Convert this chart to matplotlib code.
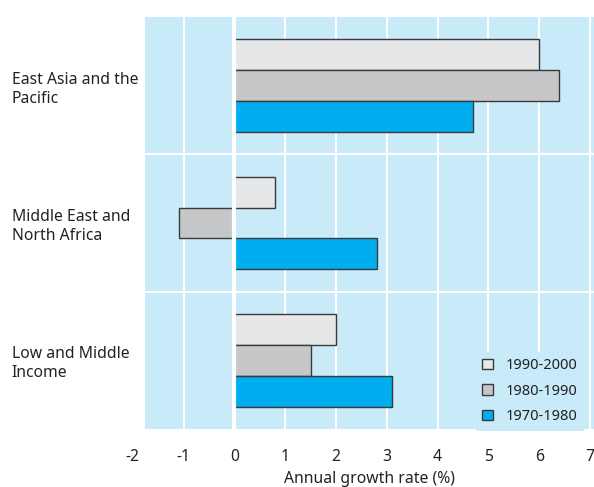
import matplotlib.pyplot as plt
import numpy as np

regions = ['East Asia and the\nPacific', 'Middle East and\nNorth Africa', 'Low and Middle\nIncome']
periods = ['1990-2000', '1980-1990', '1970-1980']
growth_1990_2000 = [6.0, 0.8, 2.0]
growth_1980_1990 = [6.4, -1.1, 1.5]
growth_1970_1980 = [4.7, 2.8, 3.1]
xticks = [-2, -1, 0, 1, 2, 3, 4, 5, 6, 7]

colors = ['#e6e7e8', '#c6c7c9', '#00aeef']
bg = '#c8eaf9'
txt = '#222222'
fs = 11.3

plt.rcParams['font.family'] = ['Noto Sans', 'DejaVu Sans']

fig = plt.figure(figsize=(5.94, 4.87), dpi=100)
ax = fig.add_axes([145 / 594, 1 - 429 / 487, (594 - 145) / 594, (429 - 17) / 487])
ax.set_facecolor(bg)

y = np.arange(len(regions))
h = 0.225
series = [growth_1990_2000, growth_1980_1990, growth_1970_1980]
for i, (vals, c, lab) in enumerate(zip(series, colors, periods)):
    ax.barh(y + (i - 1) * h, vals, height=h, color=c, edgecolor='#3a3a3a',
            linewidth=1.0, label=lab, zorder=3)

# white grid
for t in xticks:
    ax.axvline(t, color='white', lw=3 if t == 0 else 1.5, zorder=1 if t != 0 else 4)
for s in [0.5, 1.5]:
    ax.axhline(s, color='white', lw=1.5, zorder=2)

ax.set_xticks(xticks)
ax.set_xticklabels([str(t) for t in xticks], va='top')
ax.set_xlim(-1.76, 7.08)
ax.set_ylim(2.5, -0.5)
# -2 lies left of the plot area, so write its label by hand
ax.annotate(str(xticks[0]), xy=(xticks[0], 0), xycoords=('data', 'axes fraction'),
            xytext=(0, -14.5), textcoords='offset points', ha='center', va='top',
            fontsize=fs, color=txt, annotation_clip=False)
ax.set_yticks(y)
ax.set_yticklabels(regions, ha='left', linespacing=1.25)
ax.tick_params(axis='y', length=0, pad=96, labelsize=fs, colors=txt)
ax.tick_params(axis='x', length=0, pad=14.5, labelsize=fs, colors=txt)
ax.set_xlabel('Annual growth rate (%)', fontsize=fs, color=txt, labelpad=4)
for sp in ax.spines.values():
    sp.set_visible(False)

leg = ax.legend(loc='lower right', bbox_to_anchor=(0.995, -0.022), frameon=True,
                facecolor=bg, edgecolor='none', framealpha=1, fancybox=False,
                handlelength=0.75, handleheight=0.75, handletextpad=0.9,
                labelspacing=0.72, fontsize=10.5, borderpad=0.45)
leg.set_zorder(5)
for t in leg.get_texts():
    t.set_color(txt)

fig.savefig('out.png', dpi=100)
